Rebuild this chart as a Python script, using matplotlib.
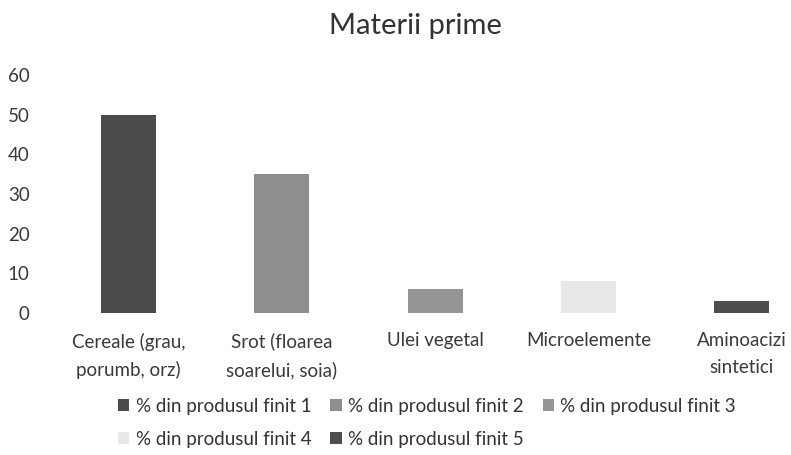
import matplotlib
matplotlib.use("Agg")
import matplotlib.pyplot as plt
import numpy as np

plt.rcParams['font.family'] = ['Lato', 'DejaVu Sans']

categories = ["Cereale (grau,\nporumb, orz)", "Srot (floarea\nsoarelui, soia)",
              "Ulei vegetal", "Microelemente", "Aminoacizi\nsintetici"]
series_names = ["% din produsul finit 1", "% din produsul finit 2", "% din produsul finit 3",
                "% din produsul finit 4", "% din produsul finit 5"]
# each series only has a value in its own category
series_values = [
    [50, 0, 0, 0, 0],
    [0, 35, 0, 0, 0],
    [0, 0, 6, 0, 0],
    [0, 0, 0, 8, 0],
    [0, 0, 0, 0, 3],
]
y_ticks = [0, 10, 20, 30, 40, 50, 60]

colors = ["#4b4b4b", "#8e8e8e", "#959595", "#e8e8e8", "#4e4e4e"]

fig = plt.figure(figsize=(7.91, 4.55), dpi=100)
ax = fig.add_axes([52 / 791, 142 / 455, (791 - 52) / 791, 238 / 455])

x = np.arange(len(categories))
bottom = np.zeros(len(categories))
handles = []
for name, vals, col in zip(series_names, series_values, colors):
    b = ax.bar(x, vals, width=0.36, bottom=bottom, color=col, label=name)
    bottom += np.array(vals)
    handles.append(b)

ax.set_xlim(-0.5, -0.5 + (791 - 52) / 153.25)
ax.set_ylim(0, 60)
ax.set_yticks(y_ticks)
ax.set_xticks(x)
ax.set_xticklabels(categories, fontsize=13.5, color="#3a3a3a", linespacing=1.7)
ax.tick_params(axis='y', labelsize=13.5, labelcolor="#3a3a3a", length=0, pad=16)
ax.tick_params(axis='x', length=0, pad=14)
for s in ax.spines.values():
    s.set_visible(False)

fig.text(0.525, 0.943, "Materii prime", ha='center', va='center', fontsize=21, color="#333333")

order = [0, 3, 1, 4, 2]
leg = fig.legend([handles[i] for i in order], [series_names[i] for i in order],
                 ncol=3, loc='upper left', bbox_to_anchor=(118 / 791, 1 - 398 / 455),
                 frameon=False, fontsize=13.5, handlelength=0.6, handleheight=0.6,
                 handletextpad=0.35, columnspacing=1.0, labelspacing=0.85,
                 labelcolor="#333333", borderaxespad=0, borderpad=0)

fig.savefig("out.png", dpi=100)
